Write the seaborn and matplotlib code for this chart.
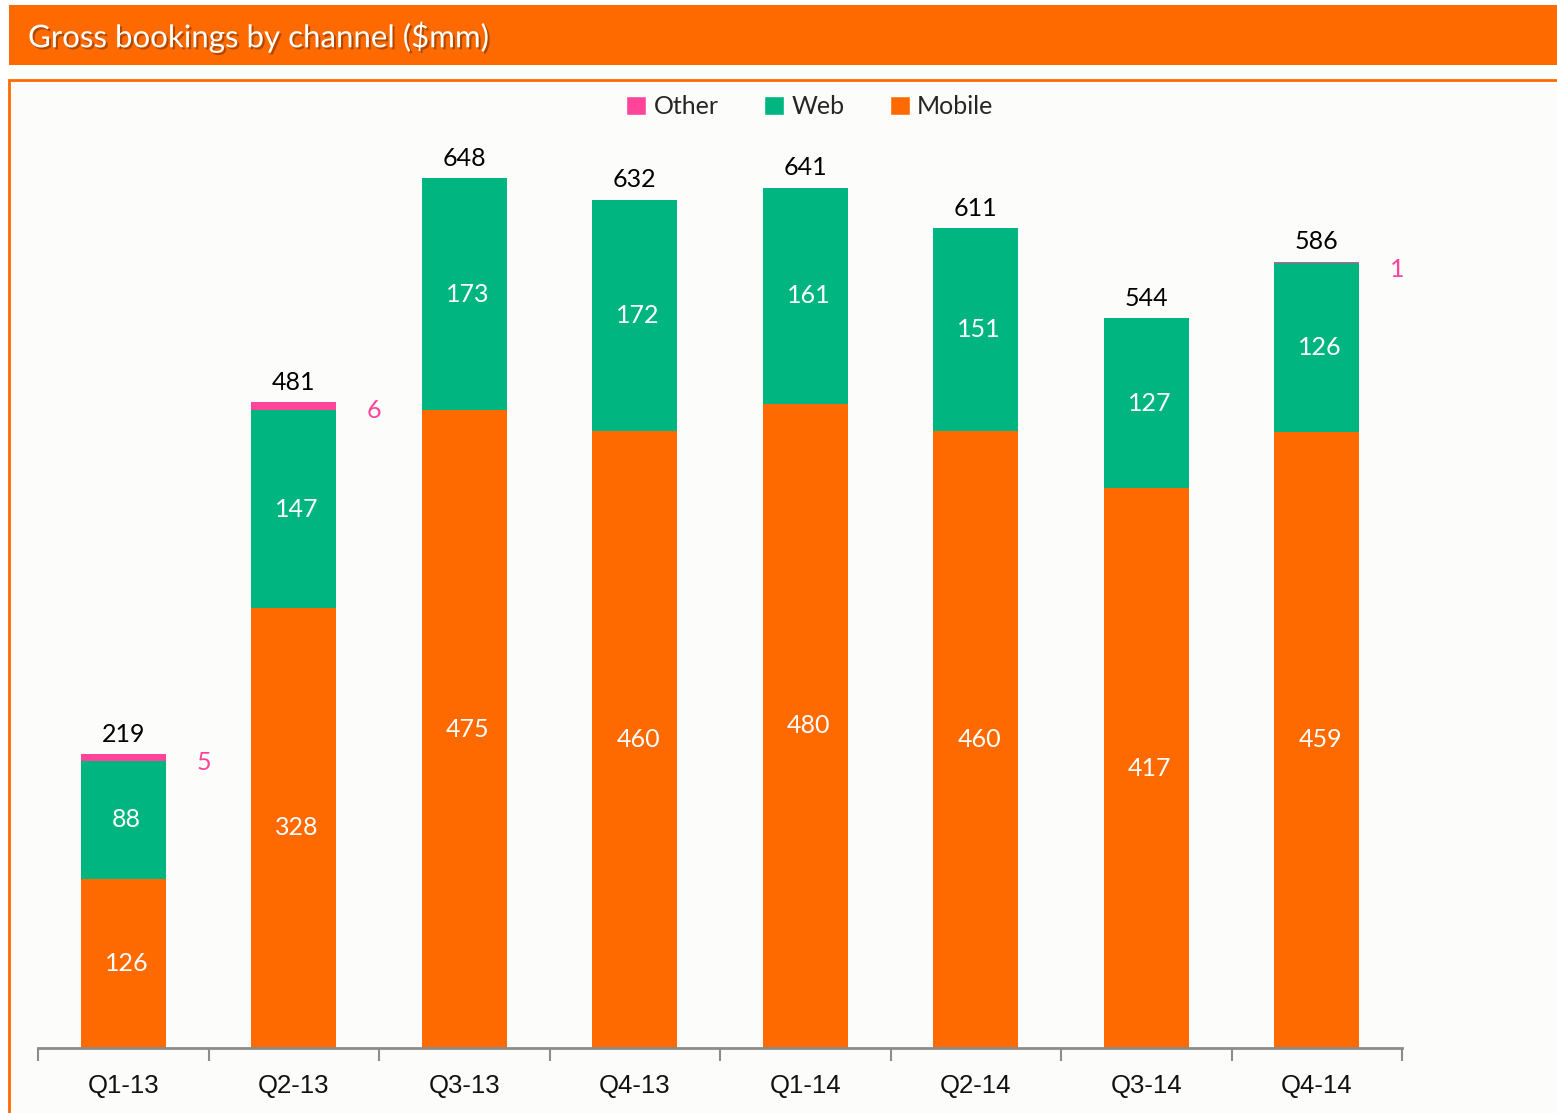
import numpy as np
import pandas as pd
import matplotlib
matplotlib.use("Agg")
import matplotlib.pyplot as plt
import matplotlib.patheffects as pe
from matplotlib.patches import Rectangle, Patch
import seaborn as sns

# DATA
quarters = ["Q1-13", "Q2-13", "Q3-13", "Q4-13", "Q1-14", "Q2-14", "Q3-14", "Q4-14"]
mobile = [126, 328, 475, 460, 480, 460, 417, 459]
web = [88, 147, 173, 172, 161, 151, 127, 126]
other = [5, 6, 0, 0, 0, 0, 0, 1]
totals = [219, 481, 648, 632, 641, 611, 544, 586]

ORANGE = "#FF6A00"
GREEN = "#00B57F"
PINK = "#FF4499"
BG = "#FCFCFA"

df = pd.DataFrame({"quarter": quarters, "mobile": mobile, "web": web, "other": other})
df["mob_web"] = df["mobile"] + df["web"]
df["all"] = df["mob_web"] + df["other"]

sns.set_style("white")
plt.rcParams["font.family"] = ["Lato", "DejaVu Sans"]

fig = plt.figure(figsize=(15.57, 11.13), dpi=100)
fig.patch.set_facecolor("white")
W, H = 1557, 1113

# title bar and frame
fig.patches.append(Rectangle((9 / W, 1 - 65 / H), 1, 60 / H, transform=fig.transFigure,
                             facecolor=ORANGE, edgecolor="none", zorder=-2))
fig.patches.append(Rectangle((9 / W, -0.05), 1.1, 1 - 80 / H + 0.05, transform=fig.transFigure,
                             facecolor=BG, edgecolor=ORANGE, linewidth=2, zorder=-2))
fig.text(28 / W, 1 - 37 / H, "Gross bookings by channel ($mm)", color="white",
         fontsize=22.5, va="center", ha="left",
         path_effects=[pe.withSimplePatchShadow(offset=(1.5, -1.5), shadow_rgbFace="#7a3300", alpha=0.6)])

ax = fig.add_axes([38 / W, 1 - 1048 / H, (1402 - 38) / W, (1048 - 130) / H])
ax.set_zorder(2)
ax.set_facecolor("none")

# stacked bars: draw cumulative layers from the top down
for col, colour in [("all", PINK), ("mob_web", GREEN), ("mobile", ORANGE)]:
    sns.barplot(data=df, x="quarter", y=col, color=colour, width=0.5, saturation=1,
                linewidth=0, ax=ax)

ax.set_ylim(0, 684)
ax.set_xlim(-0.5, len(quarters) - 0.5)
ax.set_xlabel("")
ax.set_ylabel("")
ax.set_yticks([])
for s in ["top", "right", "left"]:
    ax.spines[s].set_visible(False)
ax.spines["bottom"].set_color("#8c8c8c")
ax.spines["bottom"].set_linewidth(2)

# boundary ticks, centered labels
ax.set_xticks(np.arange(len(quarters) + 1) - 0.5)
ax.set_xticklabels([])
ax.tick_params(axis="x", which="major", direction="out", length=9, width=1.5,
               color="#8c8c8c", bottom=True)
ax.set_xticks(np.arange(len(quarters)), minor=True)
ax.set_xticklabels(quarters, minor=True)
for lab in ax.get_xticklabels(minor=True):
    lab.set_fontfamily(["Liberation Sans", "DejaVu Sans"])
    lab.set_fontsize(18.5)
    lab.set_color("#111111")
ax.tick_params(axis="x", which="minor", length=0, pad=19)

for i in range(len(quarters)):
    ax.text(i + 0.02, mobile[i] / 2, str(mobile[i]), color="white", fontsize=18,
            ha="center", va="center")
    ax.text(i + 0.02, mobile[i] + web[i] / 2, str(web[i]), color="white", fontsize=18,
            ha="center", va="center")
    ax.annotate(str(totals[i]), (i, totals[i]), xytext=(0, 6), textcoords="offset points",
                ha="center", va="bottom", fontsize=18, color="black")
    if other[i] > 0:
        ax.annotate(str(other[i]), (i + 0.47, totals[i]), xytext=(0, -6),
                    textcoords="offset points", ha="center", va="center",
                    fontsize=18, color=PINK)

handles = [Patch(facecolor=PINK, label="Other"),
           Patch(facecolor=GREEN, label="Web"),
           Patch(facecolor=ORANGE, label="Mobile")]
fig.legend(handles=handles, loc="center", bbox_to_anchor=(810 / W, 1 - 107 / H), ncol=3,
           frameon=False, fontsize=18, handlelength=0.8, handleheight=0.8,
           handletextpad=0.3, columnspacing=1.8)

fig.savefig("out.png", dpi=100, facecolor=fig.get_facecolor())
